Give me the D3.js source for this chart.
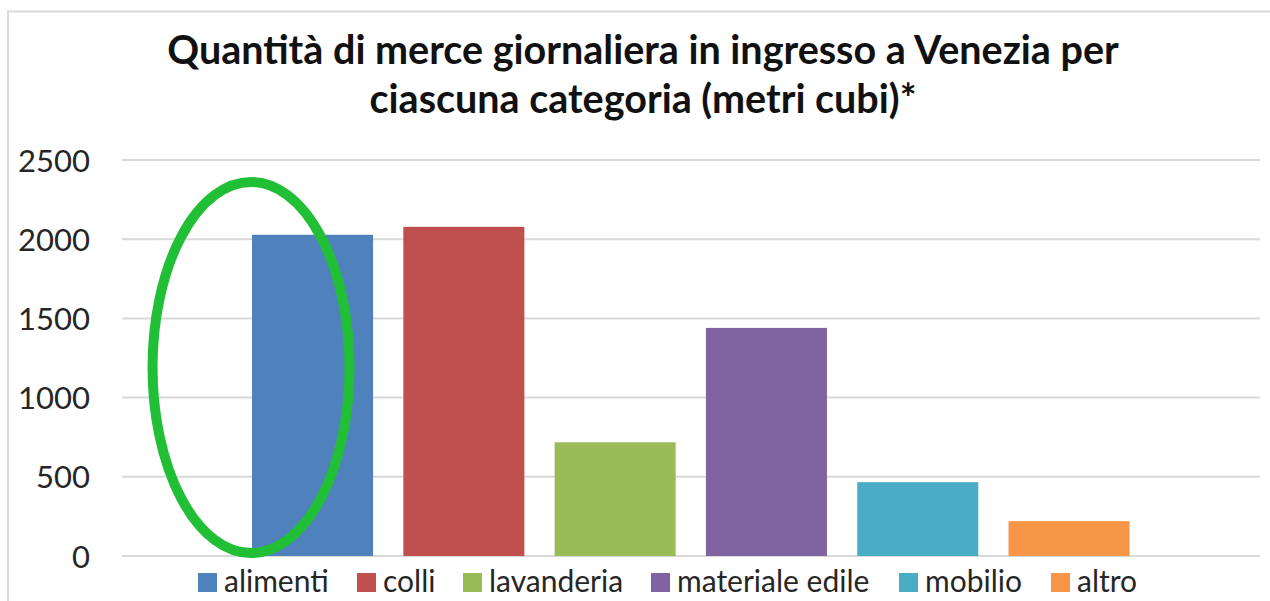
<!DOCTYPE html>
<html><head><meta charset="utf-8">
<script src="https://cdn.jsdelivr.net/npm/d3@7"></script>
<style>body{margin:0;background:#fff}svg{display:block}</style>
</head><body>
<svg id="c" width="1270" height="601"></svg>
<script>
const categories = ["alimenti","colli","lavanderia","materiale edile","mobilio","altro"];
const values = [2028, 2078, 718, 1440, 466, 220];
const colors = ["#4F81BD","#C0504D","#9BBB59","#8064A2","#4BACC6","#F79646"];
const yTicks = [0,500,1000,1500,2000,2500];
const titleLines = ["Quantità di merce giornaliera in ingresso a Venezia per","ciascuna categoria (metri cubi)*"];

const svg = d3.select("#c");
const font = "Lato, 'Open Sans', sans-serif";

// outer chart border
svg.append("rect").attr("x",8).attr("y",11.5).attr("width",1300).attr("height",700)
  .attr("fill","none").attr("stroke","#d9d9d9").attr("stroke-width",2);

const y = d3.scaleLinear().domain([0,2500]).range([556,160]);
const x = d3.scaleBand().domain(categories).range([236.9,1144.7]).paddingInner(0.2).paddingOuter(0.1);

// gridlines
svg.append("g").selectAll("line").data(yTicks).join("line")
  .attr("x1",122).attr("x2",1260).attr("y1",d=>y(d)).attr("y2",d=>y(d))
  .attr("stroke","#d9d9d9").attr("stroke-width",2);

// y axis
const ax = svg.append("g").attr("transform","translate(122,0)")
  .call(d3.axisLeft(y).tickValues(yTicks).tickSize(0).tickPadding(32).tickFormat(d3.format("d")));
ax.select(".domain").remove();
ax.selectAll("text").attr("font-family",font).attr("font-size",31).attr("fill","#262626").attr("dy","0.36em");

// bars
svg.append("g").selectAll("rect").data(values).join("rect")
  .attr("x",(d,i)=>x(categories[i])).attr("width",x.bandwidth())
  .attr("y",d=>y(d)).attr("height",d=>y(0)-y(d))
  .attr("fill",(d,i)=>colors[i]);

// title
svg.append("g").selectAll("text").data(titleLines).join("text")
  .attr("x",643).attr("y",(d,i)=>64+i*49).attr("text-anchor","middle")
  .attr("font-family",font).attr("font-weight","bold").attr("font-size",39.5).attr("fill","#111")
  .text(d=>d);

// legend
const legendX = [198,357,463,651,899,1051];
const lg = svg.append("g").selectAll("g").data(categories).join("g")
  .attr("transform",(d,i)=>`translate(${legendX[i]},573)`);
lg.append("rect").attr("width",19).attr("height",19).attr("fill",(d,i)=>colors[i]);
lg.append("text").attr("x",26).attr("y",19).attr("font-family",font).attr("font-size",30)
  .attr("fill","#262626").text(d=>d);

// green highlight ellipse
svg.append("ellipse").attr("cx",x(categories[0])-1).attr("cy",367.5).attr("rx",98.5).attr("ry",185.5)
  .attr("fill","none").attr("stroke","#21BF35").attr("stroke-width",10);
</script>
</body></html>
